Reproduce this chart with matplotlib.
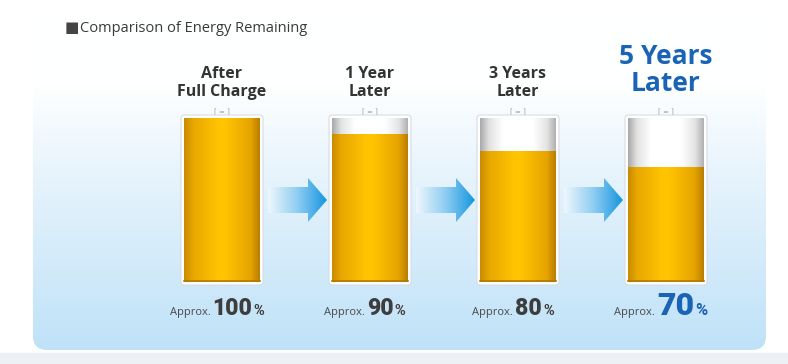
import numpy as np
import matplotlib.pyplot as plt
from matplotlib.patches import FancyBboxPatch, Rectangle, Polygon
from matplotlib.colors import LinearSegmentedColormap

title = "Comparison of Energy Remaining"
stages = ["After\nFull Charge", "1 Year\nLater", "3 Years\nLater", "5 Years\nLater"]
remaining = [100, 90, 80, 70]
highlight = [False, False, False, True]

W, H = 788, 364
fig = plt.figure(figsize=(W / 100, H / 100), dpi=100)
ax = fig.add_axes([0, 0, 1, 1])
ax.set_xlim(0, W)
ax.set_ylim(H, 0)
ax.axis("off")

# page background
ax.add_patch(Rectangle((0, 0), W, H, color="white", zorder=0))
ax.add_patch(Rectangle((0, 353), W, 11, color="#edf1f6", zorder=0))

# panel with vertical white -> light blue gradient
panel = FancyBboxPatch((33, 20), 733, 330, boxstyle="round,pad=0,rounding_size=14",
                       facecolor="none", edgecolor="none", zorder=1)
ax.add_patch(panel)
grad = np.linspace(0, 1, 256).reshape(-1, 1)
panel_cmap = LinearSegmentedColormap.from_list(
    "panel", [(0, "#ffffff"), (0.2, "#feffff"), (0.45, "#e8f4fc"), (1, "#bfe2f8")])
im = ax.imshow(grad, cmap=panel_cmap, extent=(33, 766, 350, 20), aspect="auto", zorder=1)
im.set_clip_path(panel)

ax.text(65, 28, "\u25a0", fontsize=11, color="#444444", ha="left", va="center",
        family="DejaVu Sans")
ax.text(80, 28, title, fontsize=10.5, color="#3a3a3a", ha="left", va="center",
        family="Open Sans")

yellow_cmap = LinearSegmentedColormap.from_list(
    "yel", [(0, "#c98a00"), (0.12, "#e8a800"), (0.45, "#ffc400"),
            (0.55, "#ffc300"), (0.88, "#e6a400"), (1, "#b97d00")])
empty_cmap = LinearSegmentedColormap.from_list(
    "emp", [(0, "#a8a8a8"), (0.12, "#e2e2e2"), (0.3, "#ffffff"),
            (0.7, "#ffffff"), (0.88, "#e4e4e4"), (1, "#b0b0b0")])
arrow_cmap = LinearSegmentedColormap.from_list(
    "arr", [(0, "#eef7fd"), (0.5, "#8fcdf2"), (1, "#1596de")])
hgrad = np.linspace(0, 1, 256).reshape(1, -1)

renderer = fig.canvas.get_renderer()
inv = ax.transData.inverted()


def width_of(t):
    bb = t.get_window_extent(renderer)
    (xa, _), (xb, _) = inv.transform([(bb.x0, 0), (bb.x1, 0)])
    return xb - xa


x0, step = 222, 148
bw, top, bot = 76, 118, 282
for i, (label, val, hl) in enumerate(zip(stages, remaining, highlight)):
    xc = x0 + i * step
    left = xc - bw / 2
    # casing
    ax.add_patch(FancyBboxPatch((left - 3, top - 3), bw + 6, bot - top + 6,
                                boxstyle="round,pad=0,rounding_size=3",
                                facecolor="white", edgecolor="#d8dde2", lw=0.8, zorder=2))
    # empty part
    body = Rectangle((left, top), bw, bot - top, facecolor="none", edgecolor="none", zorder=3)
    ax.add_patch(body)
    e = ax.imshow(hgrad, cmap=empty_cmap, extent=(left, left + bw, bot, top),
                  aspect="auto", zorder=3)
    e.set_clip_path(body)
    # filled part
    level = bot - (bot - top) * val / 100
    fill = Rectangle((left, level), bw, bot - level, facecolor="none", edgecolor="none", zorder=4)
    ax.add_patch(fill)
    f = ax.imshow(hgrad, cmap=yellow_cmap, extent=(left, left + bw, bot, level),
                  aspect="auto", zorder=4)
    f.set_clip_path(fill)
    ax.plot([left, left + bw], [bot - 1, bot - 1], color="#b07800", lw=1.2, zorder=5)
    # cap marks
    ax.text(xc, top - 6, "\u2308 = \u2309", fontsize=5, color="#9a9a9a", ha="center",
            va="center", family="DejaVu Sans", zorder=5)

    # stage label
    if hl:
        ax.text(xc, 70, label, fontsize=19, fontweight="bold", color="#1a63b5",
                ha="center", va="center", linespacing=1.0, family="Open Sans")
    else:
        ax.text(xc, 83, label, fontsize=11.5, fontweight="bold", color="#333333",
                ha="center", va="center", linespacing=1.15, family="Open Sans")

    # value label: "Approx." + number + "%"
    num_color = "#1a63b5" if hl else "#3d3d3d"
    num_size = 23 if hl else 16.5
    yb = 315
    t1 = ax.text(0, yb, "Approx.", fontsize=8, color="#4a4a4a", ha="left",
                 va="baseline", family="Open Sans")
    t2 = ax.text(0, yb, f"{val}", fontsize=num_size, fontweight="heavy",
                 color=num_color, ha="left", va="baseline", family="Roboto")
    t3 = ax.text(0, yb, "%", fontsize=12 if hl else 10.5, fontweight="bold",
                 color=num_color, ha="left", va="baseline", family="Roboto")
    w1, w2, w3 = width_of(t1), width_of(t2), width_of(t3)
    total = w1 + w2 + w3 + 3
    xs = xc - 5 - total / 2
    t1.set_x(xs)
    t2.set_x(xs + w1 + 2)
    t3.set_x(xs + w1 + w2 + 3)

    # arrow to next stage
    if i < len(stages) - 1:
        a0 = xc + bw / 2 + 8
        a1 = xc + step - bw / 2 - 5
        yc = 200
        pts = [(a0, yc - 13), (a1 - 19, yc - 13), (a1 - 19, yc - 22), (a1, yc),
               (a1 - 19, yc + 22), (a1 - 19, yc + 13), (a0, yc + 13)]
        arrow = Polygon(pts, closed=True, facecolor="none", edgecolor="none", zorder=2)
        ax.add_patch(arrow)
        a = ax.imshow(hgrad, cmap=arrow_cmap, extent=(a0, a1, yc + 22, yc - 22),
                      aspect="auto", zorder=2)
        a.set_clip_path(arrow)

ax.set_xlim(0, W)
ax.set_ylim(H, 0)
fig.savefig("out.png", dpi=100)
